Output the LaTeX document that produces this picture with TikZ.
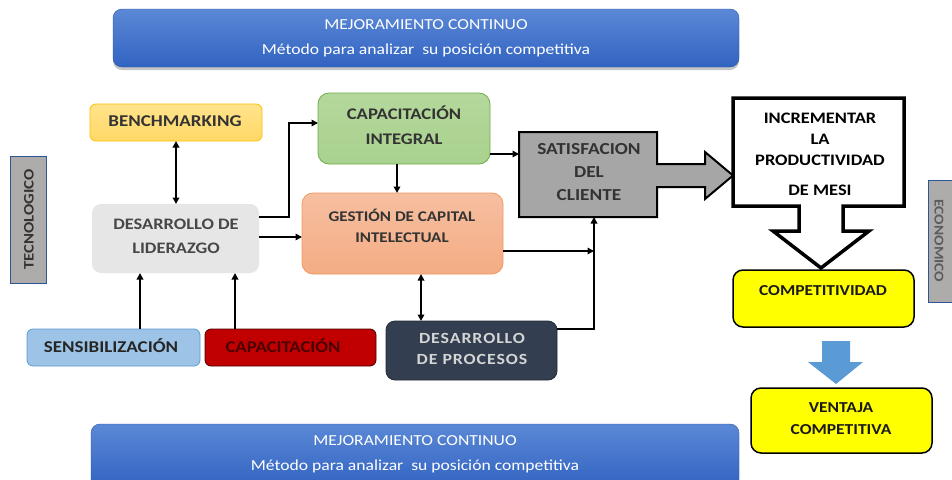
\documentclass[tikz,border=0pt]{standalone}
\usepackage{fontspec}
\setmainfont{Carlito}[FakeStretch=1.15]
\usetikzlibrary{arrows.meta,shadows}
\definecolor{blueT}{HTML}{5B88D6}
\definecolor{blueB}{HTML}{3163C1}
\definecolor{benchF}{HTML}{FFD966}
\definecolor{benchL}{HTML}{FFE38C}
\definecolor{benchB}{HTML}{FFC000}
\definecolor{liderF}{HTML}{E7E6E6}
\definecolor{tecF}{HTML}{AEABAB}
\definecolor{tecB}{HTML}{2F5597}
\definecolor{capiF}{HTML}{A9D18E}
\definecolor{capiL}{HTML}{B4D89C}
\definecolor{capiB}{HTML}{70AD47}
\definecolor{gestF}{HTML}{F4AC83}
\definecolor{gestL}{HTML}{F6BFA1}
\definecolor{gestB}{HTML}{F09A62}
\definecolor{satF}{HTML}{A6A6A6}
\definecolor{yel}{HTML}{FFFF00}
\definecolor{sensF}{HTML}{9DC3E6}
\definecolor{sensB}{HTML}{5B9BD5}
\definecolor{capF}{HTML}{C00000}
\definecolor{capT}{HTML}{4A0000}
\definecolor{procF}{HTML}{333F50}
\definecolor{procT}{HTML}{D5D5D5}
\definecolor{arrB}{HTML}{5B9BD5}
\definecolor{txtD}{HTML}{333333}
\newcommand\fs[2]{\fontsize{#1}{#2}\selectfont}
\begin{document}
\begin{tikzpicture}[x=1pt,y=-1pt,
  >={Triangle[length=6.5pt,width=6.5pt]},
  conn/.style={line width=1.8pt},
  shp/.style={inner sep=0pt, outer sep=0pt},
  lbl/.style={align=center, inner sep=0pt, text=txtD}]
\useasboundingbox (0,0) rectangle (952,479);
\clip (0,0) rectangle (952,479);
\fill[white] (0,0) rectangle (952,479);

% blue bands
\node[shp, rounded corners=9pt, minimum width=626pt, minimum height=58pt,
  top color=blueT, bottom color=blueB, draw=blueB!85!black, line width=0.4pt,
  drop shadow={opacity=0.45, shadow xshift=0pt, shadow yshift=-3pt}] (top) at (426,38) {};
\node[lbl, font=\fs{15.3}{25}, text=white] (topT) at (426,38)
  {MEJORAMIENTO CONTINUO\\Método para analizar\ \ su posición competitiva};
\node[shp, rounded corners=9pt, minimum width=648pt, minimum height=64pt,
  top color=blueT, bottom color=blueB, draw=blueB!85!black, line width=0.4pt,
  drop shadow={opacity=0.45, shadow xshift=0pt, shadow yshift=-3pt}] (bot) at (415,456) {};
\node[lbl, font=\fs{15.3}{25}, text=white] (botT) at (415,454)
  {MEJORAMIENTO CONTINUO\\Método para analizar\ \ su posición competitiva};

% side labels
\node[shp, minimum width=36pt, minimum height=127pt, fill=tecF, draw=tecB, line width=1pt] (tec) at (28,219.5) {};
\node[lbl, rotate=90, font=\bfseries\fs{14.5}{16}] (tecT) at (29,219.5) {TECNOLOGICO};
\node[shp, minimum width=40pt, minimum height=122pt, fill=tecF, draw=tecB, line width=1pt, anchor=west] (eco) at (928,241) {};
\node[lbl, rotate=-90, font=\bfseries\fs{13.5}{16}, text=txtD!80] (ecoT) at (939,241) {ECONOMICO};

% left boxes
\node[shp, rounded corners=6pt, minimum width=172pt, minimum height=37pt,
  top color=benchL, bottom color=benchF, draw=benchB, line width=0.8pt] (bench) at (176,122.5) {};
\node[lbl, font=\bfseries\fs{16.5}{20}] (benchT) at (175,121.5) {BENCHMARKING};

\node[shp, rounded corners=9pt, minimum width=167pt, minimum height=69pt, fill=liderF] (lider) at (175.5,238.5) {};
\node[lbl, font=\bfseries\fs{16}{24}, text=txtD!90] (liderT) at (176,236) {DESARROLLO DE\\LIDERAZGO};

\node[shp, rounded corners=6pt, minimum width=173pt, minimum height=37pt, fill=sensF, draw=sensB, line width=0.8pt] (sens) at (113.5,347.5) {};
\node[lbl, font=\bfseries\fs{16.5}{18}, text=black!85] (sensT) at (111,346) {SENSIBILIZACIÓN};

\node[shp, rounded corners=6pt, minimum width=171pt, minimum height=37pt, fill=capF, draw=capT, line width=0.8pt] (cap) at (290.5,347.5) {};
\node[lbl, font=\bfseries\fs{16.3}{18}, text=capT] (capTx) at (283,346) {CAPACITACIÓN};

% middle boxes
\node[shp, rounded corners=11pt, minimum width=172pt, minimum height=71pt,
  top color=capiL, bottom color=capiF, draw=capiB, line width=0.8pt] (capint) at (404,128.5) {};
\node[lbl, font=\bfseries\fs{16.2}{25}] (capintT) at (404,125) {CAPACITACIÓN\\INTEGRAL};

\node[shp, rounded corners=11pt, minimum width=201pt, minimum height=81pt,
  top color=gestL, bottom color=gestF, draw=gestB, line width=0.8pt] (gest) at (402.5,233.5) {};
\node[lbl, font=\bfseries\fs{14.8}{21}] (gestT) at (402,226) {GESTIÓN DE CAPITAL\\INTELECTUAL};

\node[shp, rounded corners=9pt, minimum width=171pt, minimum height=59pt, fill=procF, draw=procF!70!black, line width=0.8pt] (proc) at (471.5,350.5) {};
\node[lbl, font=\bfseries\fs{15.5}{21}\addfontfeatures{LetterSpace=6}, text=procT] (procT) at (472,349) {DESARROLLO\\DE PROCESOS};

% satisfaccion (box with right arrow)
\filldraw[fill=satF, draw=black, line width=2pt, line join=miter]
  (519,132) -- (657,132) -- (657,164) -- (705,164) -- (705,152) -- (733,175.5)
  -- (705,199) -- (705,187) -- (657,187) -- (657,217) -- (519,217) -- cycle;
\node[shp, minimum width=138pt, minimum height=85pt] (sat) at (588,174.5) {};
\node[lbl, font=\bfseries\fs{16.8}{23}] (satT) at (589,172) {SATISFACION\\DEL\\CLIENTE};

% incrementar (box with down arrow)
\filldraw[fill=white, draw=black, line width=3.5pt, line join=miter]
  (733,98) -- (904,98) -- (904,206) -- (843,206) -- (843,231) -- (869,231) -- (821,268)
  -- (773,231) -- (799,231) -- (799,206) -- (733,206) -- cycle;
\node[shp, minimum width=171pt, minimum height=108pt] (inc) at (818.5,152) {};
\node[lbl, font=\bfseries\fs{16}{21}, text=black] (incT) at (820,154)
  {INCREMENTAR\\LA\\PRODUCTIVIDAD\\[9pt]DE MESI};

% right column
\node[shp, rounded corners=10pt, minimum width=181pt, minimum height=57pt, fill=yel, draw=black, line width=1.5pt] (comp) at (823.5,298.5) {};
\node[lbl, font=\bfseries\fs{15.2}{18}, text=black!90] (compT) at (823,291) {COMPETITIVIDAD};
\fill[arrB] (822,341) -- (850,341) -- (850,362) -- (863,362) -- (836,384) -- (808,362) -- (822,362) -- cycle;
\node[shp, rounded corners=10pt, minimum width=181pt, minimum height=65pt, fill=yel, draw=black, line width=1.5pt] (vent) at (841.5,420.5) {};
\node[lbl, font=\bfseries\fs{15.2}{22}, text=black!90] (ventT) at (841,419) {VENTAJA\\COMPETITIVA};

% connector helpers
\coordinate (x140) at (140,0);
\coordinate (x235) at (235,0);
\coordinate (x397) at (397,0);
\coordinate (x421) at (421,0);
\coordinate (e1) at (289,217);
\coordinate (y123) at (0,123);
\coordinate (y237) at (0,237);
\coordinate (y154) at (0,154);
\coordinate (y329) at (0,329);
\coordinate (jn) at (594,251);

\draw[conn,<->] (bench.south) -- (bench.south |- lider.north);
\draw[conn,->] (sens.north -| x140) -- (lider.south -| x140);
\draw[conn,->] (cap.north -| x235) -- (lider.south -| x235);
\draw[conn,->] (lider.east |- e1) -- (e1) |- (capint.west |- y123);
\draw[conn,->] (lider.east |- y237) -- (gest.west |- y237);
\draw[conn,->] (capint.south -| x397) -- (gest.north -| x397);
\draw[conn,->] (capint.east |- y154) -- (sat.west |- y154);
\draw[conn,->] (gest.east |- jn) -- (jn);
\draw[conn,->] (proc.east |- y329) -| (sat.south -| jn);
\draw[conn,<->] (gest.south -| x421) -- (proc.north -| x421);
\end{tikzpicture}
\end{document}
